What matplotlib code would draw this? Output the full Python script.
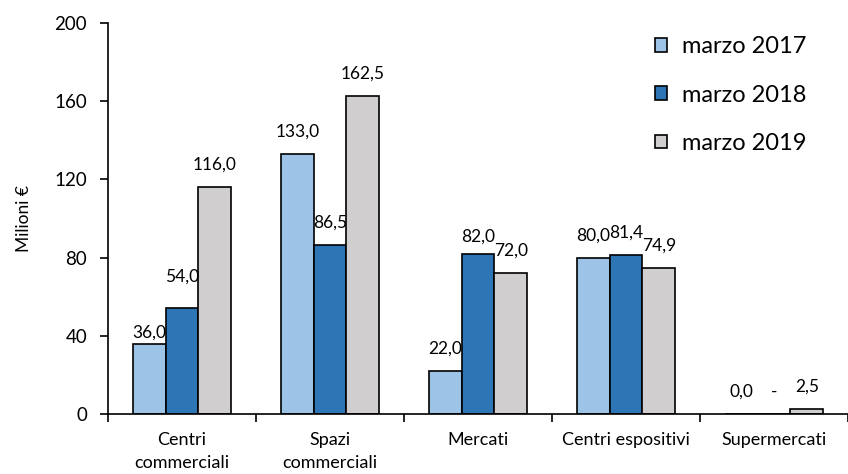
import numpy as np
import matplotlib.pyplot as plt

# ----- Data -----
categories = ["Centri\ncommerciali", "Spazi\ncommerciali", "Mercati", "Centri espositivi", "Supermercati"]
series_names = ["marzo 2017", "marzo 2018", "marzo 2019"]
v2017 = [36.0, 133.0, 22.0, 80.0, 0.0]
v2018 = [54.0, 86.5, 82.0, 81.4, np.nan]
v2019 = [116.0, 162.5, 72.0, 74.9, 2.5]
colors = ["#9DC3E6", "#2E75B6", "#D0CECE"]

# label nudges (points) where the original labels sit off the default spot
label_nudge = {(0, 0): -8, (1, 0): 7, (1, 2): -4}

# ----- Plot -----
plt.rcParams["font.family"] = ["Lato", "DejaVu Sans"]
fig = plt.figure(figsize=(8.48, 4.74), dpi=100)
ax = fig.add_axes([0.1274, 0.1266, 0.8726, 0.8249])

x = np.arange(len(categories))
w = 0.2216
for i, vals in enumerate([v2017, v2018, v2019]):
    vals = np.array(vals, dtype=float)
    pos = x + (i - 1) * w
    ax.bar(pos, np.nan_to_num(vals), width=w, color=colors[i], edgecolor="black",
           linewidth=1.2, label=series_names[i], zorder=2)
    for j, v in enumerate(vals):
        txt = "-" if np.isnan(v) else f"{v:.1f}".replace(".", ",")
        top = 0 if np.isnan(v) else v
        off = 16 + label_nudge.get((i, j), 0)
        ax.annotate(txt, (pos[j], top), xytext=(0, off), textcoords="offset points",
                    ha="center", va="center", fontsize=12.5)

ax.set_xlim(-0.5, 4.5)
ax.set_ylim(0, 200)
ax.set_yticks([0, 40, 80, 120, 160, 200])
ax.set_xticks(np.arange(-0.5, 5.0, 1.0), minor=False)
ax.set_xticklabels([])
ax.set_xticks(x, minor=True)
ax.set_xticklabels(categories, minor=True, fontsize=13, linespacing=1.5)
ax.tick_params(axis="x", which="minor", length=0, pad=13)
ax.tick_params(axis="x", which="major", length=6, width=1.2, direction="out")
ax.tick_params(axis="y", length=6, width=1.2, labelsize=13.5, pad=9)
ax.spines["top"].set_visible(False)
ax.spines["right"].set_visible(False)
ax.spines["left"].set_linewidth(1.2)
ax.spines["bottom"].set_linewidth(1.2)
ax.set_ylabel("Milioni €", fontsize=12.5, labelpad=16)

ax.legend(loc="upper left", bbox_to_anchor=(0.7105, 1.02), frameon=False, fontsize=17,
          handlelength=0.5, handleheight=0.5, handletextpad=0.64, labelspacing=1.15)

fig.savefig("out.png", dpi=100)
